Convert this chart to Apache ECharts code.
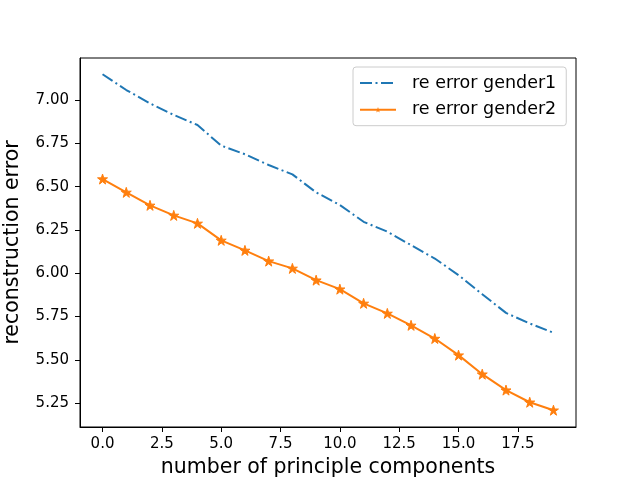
<!DOCTYPE html>
<html>
<head>
<meta charset="utf-8">
<script src="https://cdn.jsdelivr.net/npm/echarts@6/dist/echarts.min.js"></script>
<style>
	html, body { margin: 0; padding: 0; background: #fff; }
	#chartBox { width: 640px; height: 480px; }
</style>
</head>
<body>
<div id="chartBox"></div>
<script>
// data
const components = [0, 1, 2, 3, 4, 5, 6, 7, 8, 9, 10, 11, 12, 13, 14, 15, 16, 17, 18, 19];
const gender1 = [7.149, 7.058, 6.981, 6.914, 6.856, 6.737, 6.687, 6.625, 6.571, 6.467,
	6.394, 6.297, 6.240, 6.162, 6.085, 5.989, 5.879, 5.771, 5.710, 5.656];
const gender2 = [6.544, 6.467, 6.392, 6.334, 6.288, 6.190, 6.132, 6.070, 6.028, 5.960,
	5.908, 5.826, 5.768, 5.699, 5.623, 5.527, 5.417, 5.325, 5.255, 5.209];
const xTicks = [0, 2.5, 5, 7.5, 10, 12.5, 15, 17.5];
const yTicks = [5.25, 5.5, 5.75, 6.0, 6.25, 6.5, 6.75, 7.0];

const font = 'DejaVu Sans';
const blue = '#1f77b4';
const orange = '#ff7f0e';
const dashDot = [12, 3.5, 2, 3.5];
const star = 'path://M50,0 L61.8,36.2 L100,36.2 L69.1,58.6 L80.9,95 L50,72.6 L19.1,95 L30.9,58.6 L0,36.2 L38.2,36.2 Z';

let myChart = echarts.init(document.getElementById('chartBox'));
let option = {
	backgroundColor: '#fff',
	animation: false,
	textStyle: { fontFamily: font },
	grid: {
		left: 80, right: 64, top: 58, bottom: 53,
		show: true, borderColor: '#000', borderWidth: 1,
		containLabel: false,
		outerBoundsMode: 'none'
	},
	legend: {
		orient: 'vertical',
		left: 353,
		top: 67,
		padding: [7, 10, 7, 6],
		itemWidth: 36,
		itemHeight: 7,
		itemGap: 8.7,
		borderColor: '#cccccc',
		borderWidth: 1,
		borderRadius: 3,
		backgroundColor: 'rgba(255,255,255,0.8)',
		textStyle: { fontFamily: font, fontSize: 17.5, color: '#000', lineHeight: 18, padding: [0, 0, 0, 11] },
		data: [{
			name: 're error gender1',
			itemStyle: { color: 'rgba(0,0,0,0)', borderWidth: 0 },
			lineStyle: { color: blue, width: 2, type: dashDot }
		}, {
			name: 're error gender2',
			itemStyle: { color: orange, borderWidth: 0 },
			lineStyle: { color: orange, width: 2, type: 'solid' }
		}]
	},
	xAxis: {
		type: 'value',
		min: -0.95,
		max: 19.95,
		name: 'number of principle components',
		nameLocation: 'middle',
		nameGap: 30,
		nameTextStyle: { fontFamily: font, fontSize: 20.5, color: '#000' },
		axisLine: { show: true, onZero: false, lineStyle: { color: '#000', width: 1 } },
		axisTick: { show: true, length: 5, customValues: xTicks, lineStyle: { color: '#000' } },
		axisLabel: {
			customValues: xTicks,
			margin: 10,
			fontFamily: font, fontSize: 15, color: '#000',
			formatter: v => v.toFixed(1)
		},
		splitLine: { show: false }
	},
	yAxis: {
		type: 'value',
		min: 5.112,
		max: 7.243,
		name: 'reconstruction error',
		nameLocation: 'middle',
		nameGap: 57,
		nameTextStyle: { fontFamily: font, fontSize: 20.5, color: '#000' },
		axisLine: { show: true, onZero: false, lineStyle: { color: '#000', width: 1 } },
		axisTick: { show: true, length: 5, customValues: yTicks, lineStyle: { color: '#000' } },
		axisLabel: {
			customValues: yTicks,
			margin: 11,
			fontFamily: font, fontSize: 15, color: '#000',
			formatter: v => v.toFixed(2)
		},
		splitLine: { show: false }
	},
	series: [{
		name: 're error gender1',
		type: 'line',
		data: components.map((c, i) => [c, gender1[i]]),
		symbol: 'none',
		color: blue,
		lineStyle: { color: blue, width: 2, type: dashDot }
	}, {
		name: 're error gender2',
		type: 'line',
		data: components.map((c, i) => [c, gender2[i]]),
		symbol: star,
		symbolSize: 10,
		showAllSymbol: true,
		color: orange,
		itemStyle: { color: orange, borderColor: orange, borderWidth: 1 },
		lineStyle: { color: orange, width: 2 }
	}]
};
myChart.setOption(option, true);
</script>
</body>
</html>
